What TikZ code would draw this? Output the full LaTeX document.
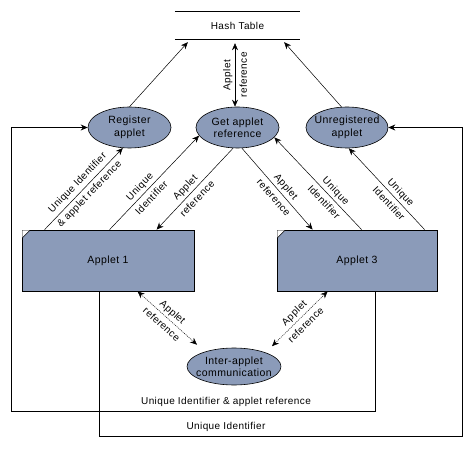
\documentclass[tikz,border=0pt]{standalone}
\usepackage{fontspec}
\setmainfont{Liberation Sans}[LetterSpace=4]
\usetikzlibrary{calc,arrows.meta,shapes.geometric}
\definecolor{boxblue}{RGB}{139,155,185}
\begin{document}
\begin{tikzpicture}[x=1pt,y=-1pt,
  font=\fontsize{10}{12}\selectfont,
  tip/.tip={Stealth[length=7pt,width=6pt]},
  el/.style={ellipse,draw,line width=0.6pt,fill=boxblue,minimum width=83pt,minimum height=41pt,inner sep=0pt},
  eltext/.style={align=center,inner sep=0pt,font=\fontsize{10.5}{12.5}\selectfont},
  box/.style={rectangle,draw,line width=0.8pt,fill=boxblue,inner sep=0pt,font=\fontsize{10.5}{12.5}\selectfont},
  conn/.style={line width=0.5pt,-tip},
  biconn/.style={line width=0.5pt,tip-tip},
  loopline/.style={line width=0.8pt,-tip},
  lbl/.style={sloped,align=center,inner sep=0pt,font=\fontsize{10}{16.5}\selectfont},
  rule/.style={line width=0.8pt},
]
\useasboundingbox (0,0) rectangle (474,449);

% Hash table
\node (hash) [minimum width=125pt,minimum height=27pt,inner sep=0pt] at (237.5,25.5) {Hash Table};
\draw[rule] (hash.north west) -- (hash.north east);
\draw[rule] (hash.south west) -- (hash.south east);

% Ellipses
\node[el,label={[eltext]center:Register\\applet}] (reg) at (129.5,127.5) {};
\node[el,label={[eltext]center:Get applet\\reference}] (get) at (237.5,127.5) {};
\node[el,minimum width=82pt,label={[eltext]center:Unregistered\\applet}] (unr) at (347,127.5) {};
\node[el,minimum width=94pt,minimum height=37pt,label={[eltext]center:Inter-applet\\communication}] (inter) at (234,366.5) {};

% Applets
\node[box,minimum width=172pt,minimum height=61pt] (app1) at (108,260.5) {Applet 1};
\node[box,minimum width=160pt,minimum height=61pt] (app3) at (357,260.5) {Applet 3};
\foreach \b in {app1,app3}{
  \fill[white] ($(\b.north west)+(0.8,0.8)$) -- ++(7.4,0) -- ++(-7.4,7.4) -- cycle;
  \draw[line width=0.5pt] ($(\b.north west)+(8.2,0.8)$) -- ($(\b.north west)+(0.8,8.2)$);
}

% Connectors to hash table
\draw[conn] (reg.north) -- ($(hash.south west)+(13,3)$);
\draw[biconn] ($(get.north)+(-2.5,0)$) -- ($(hash.south)+(-2.5,4)$)
  node[lbl,pos=0.5]{Applet\\reference};
\draw[conn] (unr.105) -- ($(hash.south east)+(-16,3)$);

% Applet 1 connectors
\draw[conn] ($(app1.north west)+(23,0)$) -- (reg.252)
  node[lbl,pos=0.5]{Unique Identifier\\\& applet reference};
\draw[conn] ($(app1.north west)+(88,0)$) -- (get.192)
  node[lbl,pos=0.4]{Unique\\Identifier};
\draw[conn] (get.258) -- ($(app1.north west)+(135,0)$)
  node[lbl,pos=0.55]{Applet\\reference};

% Applet 3 connectors
\draw[conn] (get.282) -- ($(app3.north west)+(36,0)$)
  node[lbl,pos=0.54]{Applet\\reference};
\draw[conn] ($(app3.north west)+(85,0)$) -- (get.345)
  node[lbl,pos=0.36]{Unique\\Identifier};
\draw[conn] ($(app3.north west)+(148,0)$) -- (unr.275)
  node[lbl,pos=0.39]{Unique\\Identifier};

% Inter-applet
\draw[biconn,dash pattern=on 1pt off 1pt] ($(app1.south west)+(116,0)$) -- ($(inter.north)+(-37,-3)$)
  node[lbl,pos=0.5]{Applet\\reference};
\draw[biconn,dash pattern=on 1pt off 1pt] ($(app3.south west)+(51,0)$) -- ($(inter.north)+(38,-1.5)$)
  node[lbl,pos=0.5]{Applet\\reference};

% Loops
\draw[loopline] ($(app3.south west)+(99,0)$) -- ++(0,120) -| ($(reg.west)+(-76,0)$) -- (reg.west);
\node (lblA) at (226,402) {Unique Identifier \& applet reference};
\draw[loopline] ($(app1.south west)+(78,0)$) -- ++(0,145) -| ($(unr.east)+(74,0)$) -- (unr.east);
\node (lblB) at (226,427) {Unique Identifier};
\end{tikzpicture}
\end{document}
